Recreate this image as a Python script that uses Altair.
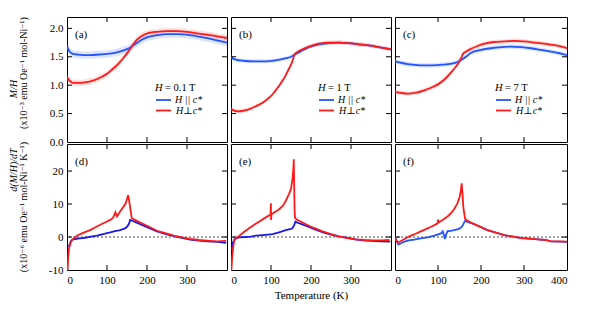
import altair as alt
import pandas as pd

FONT = "Times New Roman, Liberation Serif, DejaVu Serif, serif"
BLUE = "#2255ff"
BLUE_D = "#1a1aee"
RED = "#ff1a1a"
BAND_BLUE = "#a8bbff"
BAND_RED = "#ffb0b0"

# ---------------- M/H (x10^-3 emu Oe^-1 mol-Ni^-1) ----------------
# (a) H = 0.1 T
Ta_par = [1, 4, 8, 15, 25, 40, 60, 80, 100, 120, 140, 155, 170, 185, 200, 225, 250, 275, 300, 325, 350, 375, 400]
Ma_par = [1.68, 1.62, 1.58, 1.55, 1.54, 1.53, 1.53, 1.54, 1.55, 1.57, 1.61, 1.65, 1.72, 1.79, 1.84, 1.88, 1.90, 1.90, 1.89, 1.86, 1.83, 1.79, 1.75]
Ta_perp = [1, 5, 10, 15, 25, 45, 65, 85, 100, 110, 120, 130, 140, 150, 158, 165, 175, 190, 205, 225, 250, 275, 300, 325, 350, 375, 400]
Ma_perp = [1.13, 1.09, 1.06, 1.04, 1.04, 1.05, 1.08, 1.14, 1.20, 1.26, 1.32, 1.39, 1.47, 1.56, 1.64, 1.71, 1.80, 1.88, 1.92, 1.94, 1.95, 1.95, 1.94, 1.91, 1.89, 1.86, 1.83]
# (b) H = 1 T
Tb_par = [1, 5, 12, 30, 60, 90, 115, 135, 150, 160, 175, 195, 220, 245, 270, 295, 320, 345, 370, 400]
Mb_par = [1.50, 1.47, 1.45, 1.43, 1.42, 1.42, 1.44, 1.47, 1.50, 1.54, 1.60, 1.67, 1.72, 1.74, 1.75, 1.74, 1.72, 1.70, 1.67, 1.63]
Tb_perp = [1, 5, 17, 30, 46, 62, 79, 92, 104, 115, 125, 135, 142, 150, 155, 158, 165, 175, 195, 220, 245, 270, 295, 320, 345, 370, 400]
Mb_perp = [0.58, 0.56, 0.54, 0.55, 0.58, 0.63, 0.69, 0.76, 0.84, 0.94, 1.04, 1.15, 1.25, 1.36, 1.45, 1.53, 1.58, 1.62, 1.68, 1.73, 1.75, 1.75, 1.74, 1.72, 1.70, 1.67, 1.63]
# (c) H = 7 T
Tc_par = [1, 10, 30, 60, 85, 110, 138, 153, 165, 177, 200, 223, 250, 270, 295, 316, 340, 370, 400]
Mc_par = [1.42, 1.40, 1.37, 1.35, 1.35, 1.36, 1.39, 1.44, 1.50, 1.57, 1.62, 1.65, 1.67, 1.68, 1.67, 1.65, 1.62, 1.58, 1.53]
Tc_perp = [1, 10, 30, 50, 68, 85, 99, 115, 130, 140, 150, 155, 158, 165, 177, 192, 208, 230, 254, 280, 301, 325, 347, 375, 400]
Mc_perp = [0.88, 0.87, 0.85, 0.87, 0.91, 0.96, 1.01, 1.10, 1.22, 1.31, 1.42, 1.50, 1.55, 1.59, 1.64, 1.69, 1.73, 1.76, 1.77, 1.78, 1.77, 1.75, 1.73, 1.70, 1.65]
# half-widths of the shaded bands (blue, red)
BAND_A = [0.065, 0.055]
BAND_B = [0.035, 0.035]
BAND_C = [0.04, 0.04]

# ---------------- d(M/H)/dT (x10^-6 emu Oe^-1 mol-Ni^-1 K^-1) ----------------
Td_par = [4, 6, 9, 12, 20, 30, 42, 60, 75, 90, 108, 120, 133, 145, 150, 155, 158, 162, 170, 183, 200, 225, 250, 270, 290, 308, 330, 350, 375, 398]
Dd_par = [-3, -2.5, -1.5, -0.9, -0.6, -0.4, -0.3, 0.1, 0.4, 0.9, 1.4, 1.8, 2.1, 2.6, 3.1, 4.0, 5.2, 5.0, 4.6, 3.9, 3.0, 1.7, 0.8, 0.2, -0.3, -0.8, -1.1, -1.3, -1.5, -1.8]
Td_perp = [1.5, 3, 5, 8, 12, 17, 25, 33, 45, 58, 70, 83, 95, 108, 115, 121, 125, 130, 137, 146, 150, 153, 156, 159, 162, 170, 183, 200, 225, 250, 267, 290, 308, 330, 350, 375, 398]
Dd_perp = [-10, -6, -3.5, -2.1, -1.0, -0.4, 0.4, 0.9, 1.5, 2.1, 2.9, 3.7, 4.4, 5.2, 5.8, 7.5, 6.2, 7.2, 8.5, 10, 11.5, 12.7, 10.5, 8, 5.7, 5.2, 4.4, 3.4, 1.9, 1.0, 0.4, -0.2, -0.6, -0.9, -1.1, -1.3, -1.2]

Te_par = [2, 5, 10, 20, 35, 50, 62, 80, 104, 120, 137, 150, 154, 158, 161, 165, 175, 190, 210, 230, 250, 270, 290, 310, 330, 350, 375, 398]
De_par = [-4, -1.5, -0.5, -0.1, 0.0, 0.1, 0.4, 0.6, 0.9, 1.4, 2.1, 2.5, 2.7, 3.6, 4.7, 4.4, 4.0, 3.3, 2.3, 1.4, 0.7, 0.2, -0.2, -0.7, -1.0, -1.2, -1.3, -1.4]
Te_perp = [1, 3, 5, 8, 13, 21, 30, 46, 58, 71, 85, 99, 99.7, 100.3, 101, 112, 121, 130, 137, 144, 150, 154, 156, 157, 158, 159, 160, 165, 179, 190, 204, 229, 250, 271, 290, 312, 335, 354, 375, 396]
De_perp = [-10, -6, -3.5, -1.1, -0.3, 0.4, 1.3, 2.7, 3.7, 4.7, 5.8, 6.8, 10.2, 5.2, 6.9, 7.7, 8.5, 9.5, 11, 12.8, 14.5, 18, 21, 23.6, 15, 8, 5.8, 5.2, 4.4, 3.7, 2.9, 1.7, 0.9, 0.1, -0.3, -0.7, -0.9, -1.0, -1.0, -0.9]

Tf_par = [0, 3, 8, 14, 22, 32, 45, 60, 76, 92, 107, 111, 114, 116, 119, 122, 135, 147, 153, 157, 160, 163, 170, 184, 200, 215, 235, 254, 275, 293, 312, 332, 350, 363, 380, 400]
Df_par = [0.4, -1.0, -2.3, -1.9, -1.4, -1.0, -0.8, -0.4, -0.1, 0.4, 1.1, 1.7, 0.5, -0.6, 0.8, 1.7, 2.0, 2.4, 2.8, 3.4, 4.2, 4.9, 4.5, 3.9, 3.0, 2.1, 1.3, 0.6, 0.1, -0.3, -0.5, -0.7, -0.9, -1.3, -1.4, -1.5]
Tf_perp = [0, 3, 6, 10, 18, 27, 37, 48, 60, 72, 84, 96, 99, 100, 101, 110, 122, 130, 138, 145, 150, 153, 155, 157, 159, 163, 172, 184, 200, 215, 235, 254, 275, 293, 312, 332, 350, 363, 380, 400]
Df_perp = [-0.1, -1.0, -1.6, -1.5, -0.9, -0.2, 0.4, 1.0, 1.7, 2.4, 3.1, 3.9, 4.2, 5.3, 4.4, 5.1, 6.2, 7.2, 8.5, 10.2, 12, 14, 16.3, 13, 9, 5.5, 4.7, 3.9, 3.0, 2.1, 1.3, 0.6, 0.1, -0.3, -0.5, -0.7, -0.9, -1.3, -1.3, -1.4]

# ---------------- axes ----------------
X_DOMAIN = [0, 400]
Y_DOMAIN_TOP = [0, 2.2]
Y_DOMAIN_BOT = [-10, 28.2]
X_TICKS = [100, 200, 300]
Y_TICKS_TOP = [0.5, 1.0, 1.5, 2.0]
Y_TICKS_BOT = [0, 10, 20]
Y_LABELS_TOP = [0.0, 0.5, 1.0, 1.5, 2.0]
Y_LABELS_BOT = [-10, 0, 10, 20]
X_LABELS = [0, 100, 200, 300]
X_LABELS_LAST = [0, 100, 200, 300, 400]

W, W_LAST = 160, 172
H_TOP, H_BOT = 125, 126
TL = 5  # inner tick length


def one():
    return pd.DataFrame({"_": [0]})


def text(s, x, y, size=11, style="normal", angle=0, align="left"):
    kw = dict(text=s, font=FONT, fontSize=size, fontStyle=style, align=align,
              baseline="middle", color="black")
    if angle:
        kw["angle"] = angle
    return alt.Chart(one()).mark_text(**kw).encode(x=alt.value(x), y=alt.value(y))


def panel(series, label, ydom, yticks, ylabels, xlabels, width, height,
          bands=None, interp="linear", zero=False, legend=None, xtitle=None, ytitle=None):
    if xlabels is None:
        xaxis = None
    else:
        xaxis = alt.Axis(values=xlabels, format="d", labelPadding=4, title=xtitle,
                         titlePadding=4)
    if ylabels is None:
        yaxis = None
    else:
        if ydom[0] < 0:
            yaxis = alt.Axis(values=ylabels, labelPadding=4, title=None,
                             labelExpr="datum.value < 0 ? '-' + abs(datum.value) : '' + datum.value")
        else:
            yaxis = alt.Axis(values=ylabels, format=".1f", labelPadding=4, title=None)
    xs = alt.Scale(domain=X_DOMAIN, nice=False, zero=False)
    ys = alt.Scale(domain=ydom, nice=False, zero=False)

    def X(f="T"):
        return alt.X(f"{f}:Q", scale=xs, axis=xaxis, title=xtitle)

    def Y(f="v"):
        return alt.Y(f"{f}:Q", scale=ys, axis=yaxis, title=None)

    layers = []
    if bands is not None:
        for (T, V, col, c), hw in zip(series, bands):
            bdf = pd.DataFrame({"T": T, "lo": [v - hw for v in V], "hi": [v + hw for v in V]})
            layers.append(alt.Chart(bdf).mark_area(color=c, opacity=0.4, interpolate=interp, clip=True)
                          .encode(x=X(), y=Y("lo"), y2="hi:Q"))
    if zero:
        layers.append(alt.Chart(pd.DataFrame({"v": [0]})).mark_rule(
            color="black", strokeWidth=0.7, strokeDash=[2, 2]).encode(y=Y()))
    for T, V, col, c in series:
        df = pd.DataFrame({"T": T, "v": V})
        layers.append(alt.Chart(df).mark_line(color=col, strokeWidth=1.8, interpolate=interp, clip=True)
                      .encode(x=X(), y=Y()))
    # inward ticks
    xt = pd.DataFrame({"T": X_TICKS})
    yt = pd.DataFrame({"v": yticks})
    layers.append(alt.Chart(xt).mark_rule(color="black", strokeWidth=1).encode(
        x=X(), y=alt.value(0), y2=alt.value(TL)))
    layers.append(alt.Chart(xt).mark_rule(color="black", strokeWidth=1).encode(
        x=X(), y=alt.value(height), y2=alt.value(height - TL)))
    layers.append(alt.Chart(yt).mark_rule(color="black", strokeWidth=1).encode(
        y=Y(), x=alt.value(0), x2=alt.value(TL)))
    layers.append(alt.Chart(yt).mark_rule(color="black", strokeWidth=1).encode(
        y=Y(), x=alt.value(width), x2=alt.value(width - TL)))
    # panel label
    layers.append(text(label, 8, 18))
    # legend
    if legend is not None:
        hval, lx = legend
        layers.append(text("H", lx, 71, size=10.5, style="italic"))
        layers.append(text("= " + hval, lx + 10, 71, size=10.5))
        layers.append(alt.Chart(one()).mark_rule(color=BLUE, strokeWidth=1.8).encode(
            x=alt.value(lx + 1), x2=alt.value(lx + 16), y=alt.value(83)))
        layers.append(alt.Chart(one()).mark_rule(color=RED, strokeWidth=1.8).encode(
            x=alt.value(lx + 1), x2=alt.value(lx + 16), y=alt.value(93.5)))
        tx = lx + 20
        layers.append(text("H || c*", tx, 82.5, size=10, style="italic"))
        layers.append(text("H⊥c*", tx + 1, 93.5, size=10, style="italic"))
    if ytitle is not None:
        (l1, y1), (l2, y2) = ytitle
        layers.append(text(l1, -53, y1, size=10, style="italic", angle=270, align="center"))
        layers.append(text(l2, -43, y2, size=10, angle=270, align="center"))
    return alt.layer(*layers).properties(width=width, height=height)


pa = panel([(Ta_par, Ma_par, BLUE, BAND_BLUE), (Ta_perp, Ma_perp, RED, BAND_RED)], "(a)",
           Y_DOMAIN_TOP, Y_TICKS_TOP, Y_LABELS_TOP, None, W, H_TOP, bands=BAND_A,
           interp="monotone", legend=("0.1 T", 88),
           ytitle=(("M/H", 72), ("(x10⁻³ emu Oe⁻¹ mol-Ni⁻¹)", 56)))
pb = panel([(Tb_par, Mb_par, BLUE, BAND_BLUE), (Tb_perp, Mb_perp, RED, BAND_RED)], "(b)",
           Y_DOMAIN_TOP, Y_TICKS_TOP, None, None, W, H_TOP, bands=BAND_B,
           interp="monotone", legend=("1 T", 87))
pc = panel([(Tc_par, Mc_par, BLUE, BAND_BLUE), (Tc_perp, Mc_perp, RED, BAND_RED)], "(c)",
           Y_DOMAIN_TOP, Y_TICKS_TOP, None, None, W_LAST, H_TOP, bands=BAND_C,
           interp="monotone", legend=("7 T", 100))
pd_ = panel([(Td_par, Dd_par, BLUE_D, None), (Td_perp, Dd_perp, RED, None)], "(d)",
            Y_DOMAIN_BOT, Y_TICKS_BOT, Y_LABELS_BOT, X_LABELS, W, H_BOT, zero=True,
            ytitle=(("d(M/H)/dT", 26), ("(x10⁻⁶ emu Oe⁻¹ mol-Ni⁻¹ K⁻¹)", 63)))
pe = panel([(Te_par, De_par, BLUE_D, None), (Te_perp, De_perp, RED, None)], "(e)",
           Y_DOMAIN_BOT, Y_TICKS_BOT, None, X_LABELS, W, H_BOT, zero=True,
           xtitle="Temperature (K)")
pf = panel([(Tf_par, Df_par, BLUE, None), (Tf_perp, Df_perp, RED, None)], "(f)",
           Y_DOMAIN_BOT, Y_TICKS_BOT, None, X_LABELS_LAST, W_LAST, H_BOT, zero=True)

chart = alt.concat(pa, pb, pc, pd_, pe, pf, columns=3,
                   spacing={"row": 2, "column": 4}, bounds="flush").properties(
    padding={"left": 0, "top": 8, "right": 5, "bottom": 0},
    background="white",
).configure_view(stroke="black", strokeWidth=1).configure_axis(
    grid=False, domain=False, ticks=False, labelFont=FONT, labelFontSize=11,
    labelColor="black", titleFont=FONT, titleColor="black", titleFontSize=11,
    titleFontWeight="normal")

chart.save("out.html", embed_options={"renderer": "svg", "actions": False})
